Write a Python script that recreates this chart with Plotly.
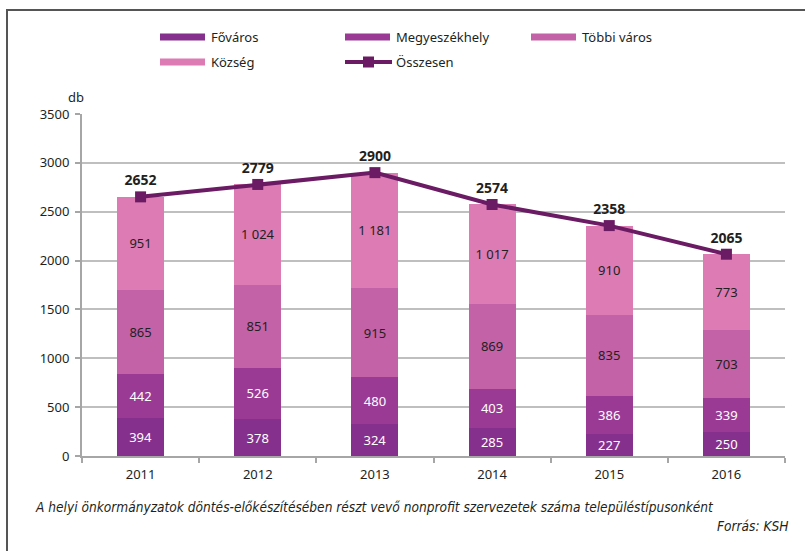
import plotly.graph_objects as go

years = ["2011", "2012", "2013", "2014", "2015", "2016"]
fovaros = [394, 378, 324, 285, 227, 250]
megyeszekhely = [442, 526, 480, 403, 386, 339]
tobbi_varos = [865, 851, 915, 869, 835, 703]
kozseg = [951, 1024, 1181, 1017, 910, 773]
osszesen = [2652, 2779, 2900, 2574, 2358, 2065]

series = [
    ("Főváros", fovaros, "#86308D", "white"),
    ("Megyeszékhely", megyeszekhely, "#9A3A95", "white"),
    ("Többi város", tobbi_varos, "#C462A7", "#231F20"),
    ("Község", kozseg, "#DC7BB4", "#231F20"),
]
line_color = "#6A1B63"
FONT = "Noto Sans"
CAP_FONT = "DejaVu Sans Condensed"


def fmt(v):
    return f"{v:,}".replace(",", " ")


fig = go.Figure()
for name, vals, col, tcol in series:
    fig.add_trace(go.Bar(
        x=years, y=vals, name=name, marker=dict(color=col, line=dict(width=0)),
        text=[fmt(v) for v in vals], textposition="inside", insidetextanchor="middle",
        textfont=dict(color=tcol, size=13, family=FONT), constraintext="none",
        showlegend=False, hoverinfo="x+y+name",
    ))

fig.add_trace(go.Scatter(
    x=years, y=osszesen, name="Összesen", mode="lines+markers+text",
    line=dict(color=line_color, width=4),
    marker=dict(symbol="square", size=11, color=line_color),
    text=[str(v) for v in osszesen], textposition="top center",
    textfont=dict(size=14, family=FONT, color="#231F20", weight="bold"),
    showlegend=False, cliponaxis=False,
))

L, R, T, B = 82, 20, 114, 95
W, H = 805, 551
pw, ph = W - L - R, H - T - B


def px(x):
    return (x - L) / pw


def py(y):
    return (H - B - y) / ph


shapes = []
annotations = []
# manual legend
legend_items = [
    ("Főváros", "#86308D", 160, 37, "bar"),
    ("Megyeszékhely", "#9A3A95", 345, 37, "bar"),
    ("Többi város", "#C462A7", 531, 37, "bar"),
    ("Község", "#DC7BB4", 160, 62, "bar"),
    ("Összesen", line_color, 345, 62, "line"),
]
for name, col, x0, yc, kind in legend_items:
    if kind == "bar":
        shapes.append(dict(type="rect", xref="paper", yref="paper",
                           x0=px(x0), x1=px(x0 + 45), y0=py(yc + 3.5), y1=py(yc - 3.5),
                           fillcolor=col, line=dict(width=0)))
    else:
        shapes.append(dict(type="line", xref="paper", yref="paper",
                           x0=px(x0), x1=px(x0 + 47), y0=py(yc), y1=py(yc),
                           line=dict(color=col, width=4)))
        shapes.append(dict(type="rect", xref="paper", yref="paper",
                           x0=px(x0 + 18), x1=px(x0 + 29), y0=py(yc + 5.5), y1=py(yc - 5.5),
                           fillcolor=col, line=dict(width=0)))
    annotations.append(dict(xref="paper", yref="paper", x=px(x0 + 49), y=py(yc),
                            text=name, showarrow=False, xanchor="left", yanchor="middle",
                            font=dict(size=13, family=FONT, color="#231F20")))

# frame lines
shapes.append(dict(type="line", xref="paper", yref="paper", x0=px(7), x1=px(806),
                   y0=py(10), y1=py(10), line=dict(color="#555555", width=2)))
shapes.append(dict(type="line", xref="paper", yref="paper", x0=px(7), x1=px(7),
                   y0=py(9), y1=py(552), line=dict(color="#555555", width=2)))

annotations.append(dict(xref="paper", yref="paper", x=px(66), y=py(97), text="db",
                        showarrow=False, xanchor="left", yanchor="middle",
                        font=dict(size=13, family=FONT, color="#231F20")))
annotations.append(dict(xref="paper", yref="paper", x=px(33), y=py(507),
                        text="<i>A helyi önkormányzatok döntés-előkészítésében részt vevő nonprofit szervezetek száma településtípusonként</i>",
                        showarrow=False, xanchor="left", yanchor="middle",
                        font=dict(size=13.6, family=CAP_FONT, color="#231F20")))
annotations.append(dict(xref="paper", yref="paper", x=px(790), y=py(526),
                        text="<i>Forrás: KSH</i>",
                        showarrow=False, xanchor="right", yanchor="middle",
                        font=dict(size=13.6, family=CAP_FONT, color="#231F20")))

fig.update_layout(
    width=W, height=H, barmode="stack", bargap=0.6,
    margin=dict(l=L, r=R, t=T, b=B),
    plot_bgcolor="white", paper_bgcolor="white",
    font=dict(family=FONT, size=13, color="#231F20"),
    shapes=shapes, annotations=annotations,
    xaxis=dict(showline=True, linecolor="#A6A6A6", linewidth=2, ticks="outside",
               tickson="boundaries", ticklen=5, tickcolor="#A6A6A6", tickwidth=1.5,
               showgrid=False, tickfont=dict(size=13, family=FONT), ticklabelstandoff=5),
    yaxis=dict(range=[0, 3500], dtick=500, showline=True, linecolor="#A6A6A6", linewidth=2,
               ticks="outside", ticklen=5, tickcolor="#A6A6A6", tickwidth=1.5,
               showgrid=True, gridcolor="#BFBFBF", gridwidth=1.5, zeroline=False,
               tickfont=dict(size=13, family=FONT), ticklabelstandoff=3),
)

fig.write_html("out.html", config={"displayModeBar": False},
               post_script="document.body.style.margin='0';document.body.style.overflow='hidden';")
